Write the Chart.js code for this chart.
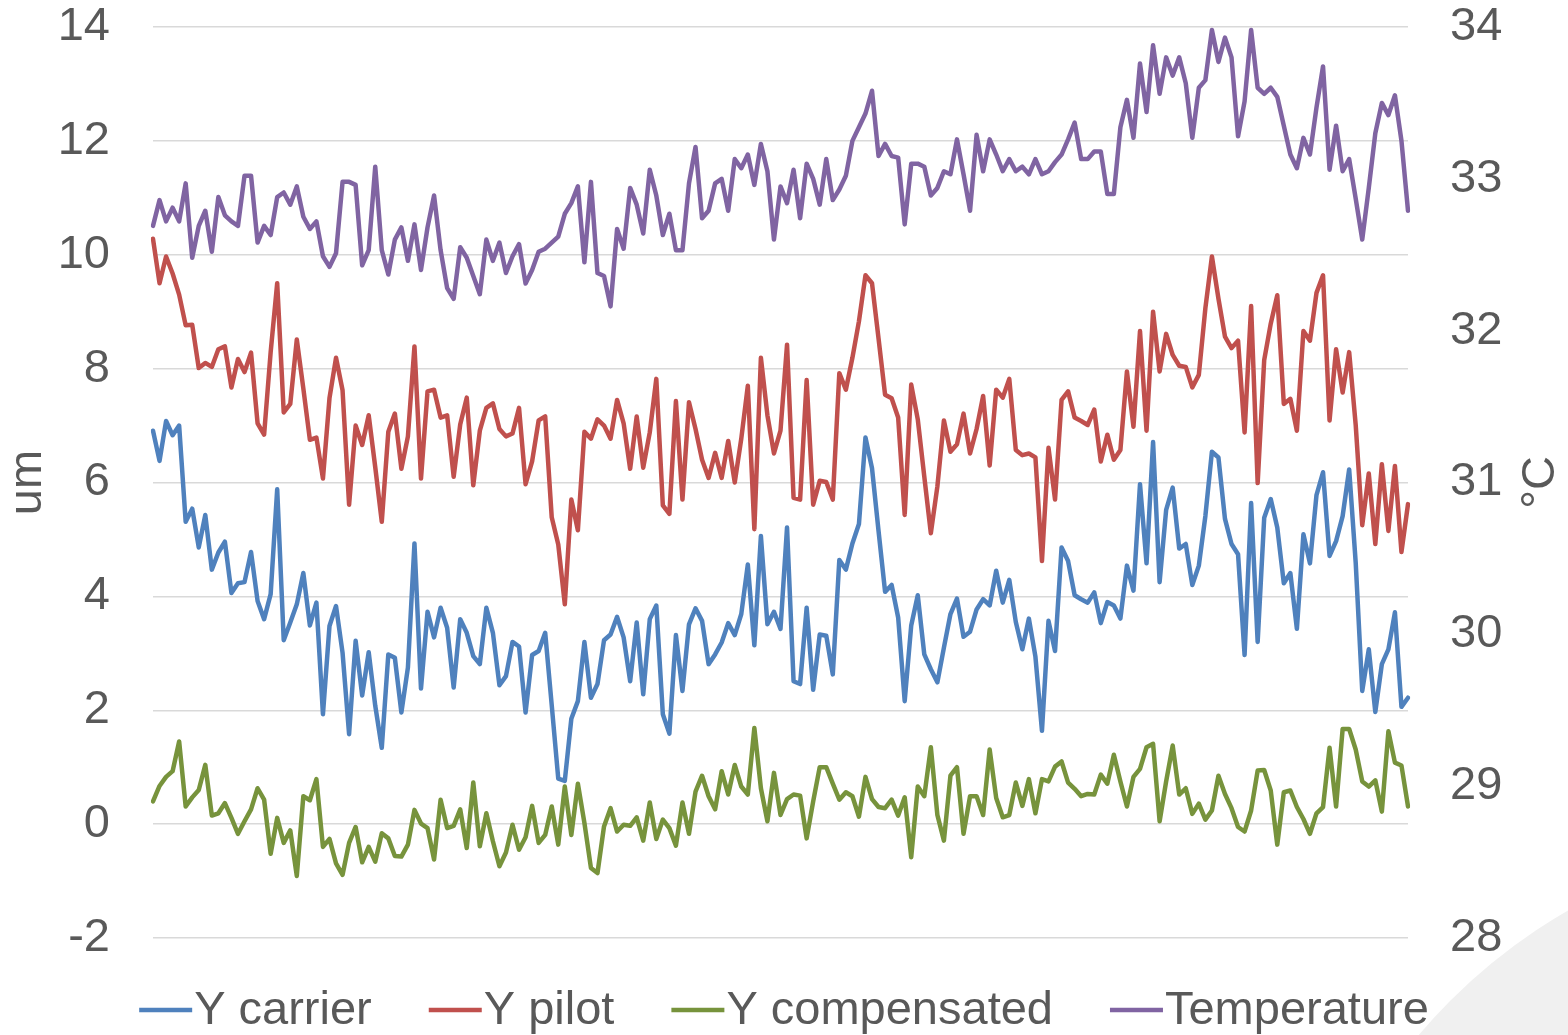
<!DOCTYPE html>
<html><head><meta charset="utf-8">
<script src="https://cdn.jsdelivr.net/npm/chart.js@4.4.0/dist/chart.umd.min.js"></script>
<style>html,body{margin:0;padding:0;background:#fff;}#wrap{width:1568px;height:1035px;position:relative;}</style>
</head><body><div id="wrap"><canvas id="c" width="1568" height="1035"></canvas></div>
<script>
// ---- data ----
const seriesNames = ['Y carrier', 'Y pilot', 'Y compensated', 'Temperature'];
const leftTitle = 'um';
const rightTitle = '°C';
const leftTicks = [-2, 0, 2, 4, 6, 8, 10, 12, 14];
const rightTicks = [28, 29, 30, 31, 32, 33, 34];

const yCarrier = [6.91,6.38,7.08,6.83,7.00,5.31,5.54,4.86,5.43,4.47,4.77,4.96,4.06,4.23,4.25,4.78,3.92,3.60,4.04,5.88,
3.23,3.54,3.86,4.41,3.49,3.89,1.93,3.48,3.83,3.01,1.58,3.22,2.26,3.02,2.08,1.34,2.98,2.92,1.96,2.75,
4.93,2.38,3.73,3.28,3.80,3.45,2.40,3.60,3.36,2.95,2.81,3.80,3.36,2.44,2.60,3.20,3.12,1.96,2.97,3.04,
3.36,2.09,0.80,0.76,1.85,2.16,3.20,2.22,2.46,3.23,3.33,3.64,3.28,2.51,3.54,2.28,3.60,3.84,1.93,1.59,
3.32,2.34,3.51,3.79,3.57,2.81,2.98,3.19,3.53,3.32,3.69,4.56,3.14,5.06,3.51,3.73,3.43,5.21,2.51,2.46,
3.80,2.36,3.33,3.31,2.63,4.64,4.47,4.93,5.27,6.79,6.25,5.15,4.08,4.20,3.63,2.16,3.49,4.02,2.98,2.72,
2.49,3.10,3.69,3.96,3.29,3.38,3.77,3.95,3.84,4.45,3.89,4.29,3.55,3.07,3.61,2.94,1.64,3.57,3.04,4.86,
4.62,4.02,3.95,3.89,4.07,3.53,3.90,3.84,3.61,4.54,4.10,5.97,4.58,6.71,4.25,5.52,5.91,4.84,4.92,4.20,
4.54,5.41,6.54,6.44,5.36,4.92,4.74,2.97,5.64,3.20,5.38,5.71,5.21,4.23,4.41,3.43,5.09,4.58,5.78,6.18,
4.71,4.97,5.41,6.23,4.59,2.34,3.07,1.97,2.81,3.07,3.72,2.06,2.22];

const yPilot = [10.28,9.50,9.97,9.67,9.30,8.76,8.77,8.01,8.10,8.03,8.34,8.39,7.67,8.17,7.94,8.28,7.04,6.84,8.29,9.50,
7.23,7.38,8.51,7.65,6.75,6.79,6.07,7.48,8.19,7.62,5.61,7.00,6.66,7.18,6.27,5.31,6.89,7.21,6.24,6.81,
8.39,6.07,7.60,7.63,7.14,7.18,6.10,7.02,7.49,5.95,6.91,7.31,7.39,6.94,6.81,6.86,7.31,5.97,6.37,7.09,
7.16,5.39,4.91,3.86,5.70,5.16,6.89,6.77,7.11,7.00,6.77,7.45,7.04,6.24,7.16,6.26,6.88,7.82,5.60,5.45,
7.43,5.70,7.41,6.94,6.40,6.08,6.52,6.08,6.73,6.00,6.77,7.70,5.18,8.19,7.18,6.51,6.91,8.42,5.73,5.70,
7.80,5.61,6.03,6.01,5.70,7.92,7.63,8.19,8.83,9.64,9.50,8.53,7.54,7.48,7.14,5.43,7.72,7.11,6.10,5.11,
5.93,7.09,6.54,6.67,7.21,6.51,6.94,7.52,6.30,7.63,7.49,7.82,6.57,6.48,6.51,6.44,4.62,6.61,5.70,7.45,
7.60,7.14,7.08,7.01,7.28,6.37,6.84,6.40,6.57,7.95,6.98,8.66,6.91,9.00,7.95,8.61,8.24,8.05,8.03,7.67,
7.89,9.06,9.97,9.23,8.56,8.36,8.49,6.88,9.10,5.99,8.15,8.79,9.29,7.38,7.47,6.91,8.66,8.49,9.33,9.64,
7.09,8.34,7.58,8.29,7.01,5.25,6.16,4.92,6.32,5.15,6.29,4.78,5.62];

const yCompensated = [0.40,0.67,0.83,0.93,1.45,0.31,0.47,0.60,1.04,0.15,0.19,0.37,0.11,-0.17,0.05,0.26,0.63,0.43,-0.52,0.11,
-0.33,-0.11,-0.91,0.49,0.42,0.79,-0.40,-0.26,-0.69,-0.89,-0.33,-0.05,-0.67,-0.40,-0.66,-0.16,-0.25,-0.56,-0.57,-0.36,
0.25,0.01,-0.07,-0.62,0.43,-0.07,-0.03,0.26,-0.42,0.73,-0.39,0.19,-0.30,-0.74,-0.50,-0.01,-0.45,-0.23,0.32,-0.33,
-0.19,0.31,-0.36,0.66,-0.19,0.71,0.02,-0.77,-0.86,-0.04,0.28,-0.13,-0.01,-0.03,0.12,-0.29,0.38,-0.26,0.08,-0.07,
-0.38,0.38,-0.17,0.57,0.85,0.49,0.26,0.93,0.52,1.04,0.66,0.52,1.69,0.63,0.05,0.90,0.16,0.44,0.52,0.50,
-0.25,0.40,1.00,1.00,0.71,0.43,0.56,0.49,0.13,0.83,0.44,0.30,0.28,0.43,0.15,0.47,-0.58,0.66,0.49,1.35,
0.16,-0.29,0.85,1.00,-0.17,0.49,0.49,0.16,1.31,0.46,0.12,0.16,0.73,0.32,0.79,0.19,0.79,0.75,1.01,1.10,
0.73,0.62,0.49,0.53,0.52,0.87,0.71,1.22,0.75,0.31,0.83,0.97,1.35,1.41,0.05,0.75,1.38,0.52,0.63,0.18,
0.36,0.08,0.24,0.85,0.53,0.28,-0.05,-0.13,0.24,0.94,0.95,0.59,-0.36,0.56,0.59,0.30,0.09,-0.17,0.19,0.30,
1.34,0.31,1.67,1.67,1.31,0.75,0.66,0.77,0.22,1.63,1.08,1.03,0.31];

const temperature = [32.69,32.86,32.72,32.81,32.72,32.97,32.48,32.69,32.79,32.52,32.88,32.76,32.72,32.69,33.02,33.02,32.58,32.69,32.63,32.88,
32.91,32.83,32.95,32.75,32.67,32.72,32.49,32.42,32.51,32.98,32.98,32.96,32.43,32.53,33.08,32.53,32.37,32.60,32.68,32.46,
32.70,32.40,32.68,32.89,32.53,32.28,32.21,32.55,32.48,32.36,32.24,32.60,32.46,32.58,32.38,32.49,32.57,32.31,32.40,32.52,
32.54,32.58,32.62,32.77,32.84,32.95,32.45,32.98,32.38,32.36,32.16,32.67,32.54,32.94,32.83,32.64,33.06,32.89,32.63,32.77,
32.53,32.53,32.97,33.21,32.74,32.79,32.97,33.00,32.79,33.13,33.07,33.16,32.96,33.23,33.05,32.60,32.95,32.84,33.06,32.74,
33.10,33.00,32.83,33.13,32.86,32.93,33.02,33.25,33.34,33.43,33.58,33.15,33.23,33.15,33.14,32.70,33.10,33.10,33.08,32.89,
32.94,33.05,33.03,33.26,33.03,32.79,33.29,33.05,33.26,33.16,33.05,33.13,33.05,33.08,33.03,33.13,33.03,33.05,33.11,33.16,
33.26,33.37,33.13,33.13,33.18,33.18,32.90,32.90,33.34,33.52,33.27,33.76,33.44,33.88,33.56,33.80,33.68,33.80,33.63,33.27,
33.60,33.65,33.98,33.77,33.93,33.80,33.28,33.51,33.98,33.60,33.56,33.60,33.54,33.35,33.16,33.07,33.27,33.16,33.47,33.74,
33.06,33.35,33.05,33.13,32.87,32.60,32.94,33.30,33.50,33.42,33.55,33.25,32.79];

const categories = yCarrier.map((_, i) => String(i + 1));

// ---- styles ----
const FONT = '"Liberation Sans", Arial, sans-serif';
const TXT = '#595959';
const colors = ['#4F81BD', '#C0504D', '#77933C', '#8064A2'];

const bgPlugin = {
  id: 'bgShape',
  beforeDraw(chart) {
    const ctx = chart.ctx;
    ctx.save();
    ctx.fillStyle = '#ffffff';
    ctx.fillRect(0, 0, chart.width, chart.height);
    ctx.fillStyle = '#f0f0f0';
    ctx.beginPath();
    ctx.arc(1850, 1400, 565, 0, Math.PI * 2);
    ctx.fill();
    ctx.restore();
  }
};

// right axis title, rotated to read bottom-to-top like the reference
const rightTitlePlugin = {
  id: 'rightTitle',
  afterDraw(chart) {
    const ctx = chart.ctx, s = chart.scales.y1, a = chart.chartArea;
    ctx.save();
    ctx.font = '47px ' + FONT;
    ctx.fillStyle = TXT;
    ctx.textAlign = 'center';
    ctx.textBaseline = 'middle';
    ctx.translate(s.right - 27, (a.top + a.bottom) / 2);
    ctx.rotate(-Math.PI / 2);
    ctx.fillText(rightTitle, 0, 0);
    ctx.restore();
  }
};

const legendPlugin = {
  id: 'lineLegend',
  afterDraw(chart) {
    const ctx = chart.ctx;
    ctx.save();
    ctx.font = '47px ' + FONT;
    const K = 53, G = 2, S = 57;
    const items = chart.data.datasets.map(d => ({ text: d.label, color: d.borderColor }));
    let total = 0;
    items.forEach(it => { it.w = ctx.measureText(it.text).width; total += K + G + it.w; });
    total += S * (items.length - 1);
    let x = (chart.width - total) / 2;
    const y = 1010;
    items.forEach(it => {
      ctx.strokeStyle = it.color; ctx.lineWidth = 4.5; ctx.lineCap = 'butt';
      ctx.beginPath(); ctx.moveTo(x, y); ctx.lineTo(x + K, y); ctx.stroke();
      ctx.fillStyle = TXT; ctx.textBaseline = 'middle'; ctx.textAlign = 'left';
      ctx.fillText(it.text, x + K + G, y + 1);
      x += K + G + it.w + S;
    });
    ctx.restore();
  }
};

const lineStyle = (label, data, color, axis) => ({
  label, data, yAxisID: axis,
  borderColor: color, backgroundColor: color,
  borderWidth: 4.5, pointRadius: 0, pointHoverRadius: 0,
  tension: 0, borderJoinStyle: 'round', borderCapStyle: 'round', fill: false
});

function fixPad(s, w) { s.width = w; s.paddingTop = 27; s.paddingBottom = 0; }

new Chart(document.getElementById('c'), {
  type: 'line',
  data: {
    labels: categories,
    datasets: [
      lineStyle(seriesNames[0], yCarrier, colors[0], 'y'),
      lineStyle(seriesNames[1], yPilot, colors[1], 'y'),
      lineStyle(seriesNames[2], yCompensated, colors[2], 'y'),
      lineStyle(seriesNames[3], temperature, colors[3], 'y1')
    ]
  },
  options: {
    responsive: false, animation: false, devicePixelRatio: 1,
    layout: { padding: { top: 0, bottom: 97, left: 0, right: 0 } },
    plugins: { legend: { display: false }, tooltip: { enabled: false } },
    scales: {
      x: { type: 'category', display: false, offset: false },
      y: {
        position: 'left', min: leftTicks[0], max: leftTicks[leftTicks.length - 1],
        afterBuildTicks(s) { s.ticks = leftTicks.map(v => ({ value: v })); },
        afterFit(s) { fixPad(s, 153); },
        grid: { color: '#d9d9d9', lineWidth: 1.5, drawTicks: false },
        border: { display: false },
        ticks: { padding: 43, color: TXT, font: { family: FONT, size: 47, lineHeight: 1.15 } },
        title: { display: true, text: leftTitle, color: TXT, padding: { top: 0, bottom: 0 }, font: { family: FONT, size: 47, lineHeight: 1.2 } }
      },
      y1: {
        position: 'right', min: rightTicks[0], max: rightTicks[rightTicks.length - 1],
        afterBuildTicks(s) { s.ticks = rightTicks.map(v => ({ value: v })); },
        afterFit(s) { fixPad(s, 160); },
        grid: { drawOnChartArea: false, drawTicks: false },
        border: { display: false },
        ticks: { padding: 42, color: TXT, font: { family: FONT, size: 47, lineHeight: 1.15 } },
        title: { display: false }
      }
    }
  },
  plugins: [bgPlugin, rightTitlePlugin, legendPlugin]
});
</script></body></html>
